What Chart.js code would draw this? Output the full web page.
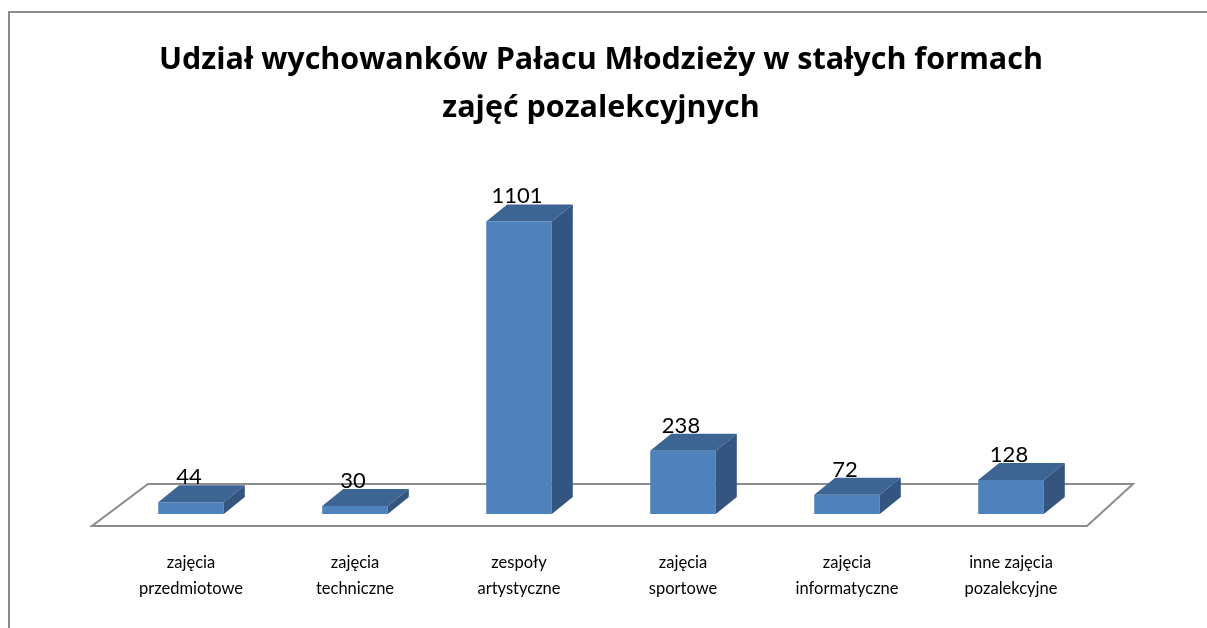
<!DOCTYPE html>
<html>
<head>
<meta charset="utf-8">
<script src="https://cdn.jsdelivr.net/npm/chart.js@4.4.0/dist/chart.umd.min.js"></script>
<style>
  html, body { margin: 0; padding: 0; background: #fff; }
  #wrap { width: 1207px; height: 628px; position: relative; }
</style>
</head>
<body>
<div id="wrap"><canvas id="chart" width="1207" height="628"></canvas></div>
<script>
// Chart data
const categories = [
    ['zajęcia', 'przedmiotowe'],
    ['zajęcia', 'techniczne'],
    ['zespoły', 'artystyczne'],
    ['zajęcia', 'sportowe'],
    ['zajęcia', 'informatyczne'],
    ['inne zajęcia', 'pozalekcyjne']
];
const participants = [44, 30, 1101, 238, 72, 128];
const titleLines = ['Udział wychowanków Pałacu Młodzieży w stałych formach', 'zajęć pozalekcyjnych'];

// 3D look
const depthX = 21;
const depthY = 17;

// Outer frame of the chart box
const framePlugin = {
    id: 'frame',
    beforeDraw(chart) {
        const ctx = chart.ctx;
        ctx.save();
        ctx.fillStyle = '#fff';
        ctx.fillRect(0, 0, chart.width, chart.height);
        ctx.strokeStyle = '#8c8c8c';
        ctx.lineWidth = 2;
        ctx.beginPath();
        ctx.moveTo(9, chart.height + 5);
        ctx.lineTo(9, 12);
        ctx.lineTo(chart.width + 5, 12);
        ctx.stroke();
        ctx.restore();
    }
};

// Floor plane under the bars
const floorPlugin = {
    id: 'floor',
    beforeDatasetsDraw(chart) {
        const ctx = chart.ctx;
        const area = chart.chartArea;
        const base = chart.scales.y.getPixelForValue(0);
        ctx.save();
        ctx.strokeStyle = '#8c8c8c';
        ctx.lineWidth = 2;
        ctx.beginPath();
        ctx.moveTo(area.left - 17, base + 12);
        ctx.lineTo(area.right - 6, base + 12);
        ctx.lineTo(area.right + 40, base - 30);
        ctx.lineTo(area.left + 39, base - 30);
        ctx.closePath();
        ctx.stroke();
        ctx.restore();
    }
};

// Top and side faces + value labels
const boxPlugin = {
    id: 'box3d',
    afterDatasetsDraw(chart) {
        const ctx = chart.ctx;
        const meta = chart.getDatasetMeta(0);
        ctx.save();
        meta.data.forEach((bar, i) => {
            const left = bar.x - bar.width / 2;
            const right = bar.x + bar.width / 2;
            const top = bar.y;
            const base = bar.base;

            // top face
            ctx.fillStyle = '#3d6594';
            ctx.beginPath();
            ctx.moveTo(left, top);
            ctx.lineTo(right, top);
            ctx.lineTo(right + depthX, top - depthY);
            ctx.lineTo(left + depthX, top - depthY);
            ctx.closePath();
            ctx.fill();

            // side face
            ctx.fillStyle = '#335580';
            ctx.beginPath();
            ctx.moveTo(right, top);
            ctx.lineTo(right + depthX, top - depthY);
            ctx.lineTo(right + depthX, base - depthY);
            ctx.lineTo(right, base);
            ctx.closePath();
            ctx.fill();

            // value label
            ctx.fillStyle = '#000';
            ctx.font = '22px Lato';
            ctx.textAlign = 'center';
            ctx.textBaseline = 'alphabetic';
            ctx.fillText(String(participants[i]), bar.x - 2, top - depthY - 1);
        });
        ctx.restore();
    }
};

new Chart(document.getElementById('chart'), {
    type: 'bar',
    data: {
        labels: categories,
        datasets: [{
            data: participants,
            backgroundColor: '#4f81bd',
            borderWidth: 0,
            barPercentage: 0.4,
            categoryPercentage: 1
        }]
    },
    options: {
        responsive: false,
        animation: false,
        devicePixelRatio: 1,
        layout: {
            padding: { left: 109, right: 114, top: 0, bottom: 26 }
        },
        plugins: {
            legend: { display: false },
            tooltip: { enabled: false },
            title: {
                display: true,
                text: titleLines,
                color: '#000',
                font: { family: 'Open Sans', size: 30.5, weight: 'bold', lineHeight: 1.55 },
                padding: { top: 37, bottom: 21 }
            }
        },
        scales: {
            x: {
                grid: { display: false, drawTicks: false },
                border: { display: false },
                afterFit(scale) {
                    scale.height = 88;
                },
                ticks: {
                    color: '#000',
                    font: { family: 'Lato', size: 16.5, lineHeight: 1.58 },
                    padding: 36,
                    maxRotation: 0,
                    autoSkip: false
                }
            },
            y: {
                display: false,
                min: 0,
                max: 1360
            }
        }
    },
    plugins: [framePlugin, floorPlugin, boxPlugin]
});
</script>
</body>
</html>
